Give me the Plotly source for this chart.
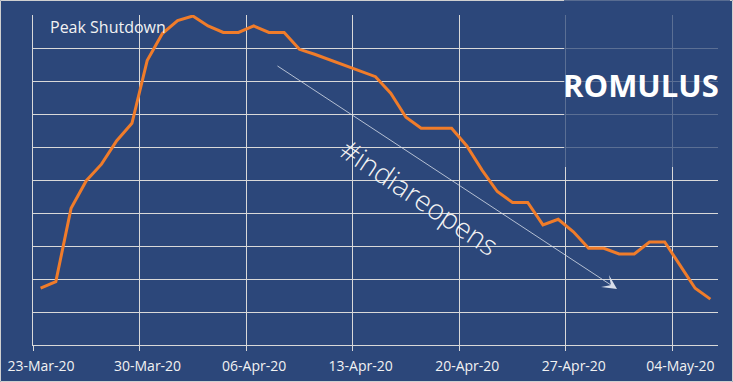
import plotly.graph_objects as go
import pandas as pd

# ---- data ----
start_date = "2020-03-23 12:00"
shutdown_index = [1.72, 1.92, 4.14, 4.98, 5.48, 6.19, 6.72, 8.62, 9.44, 9.83,
                  9.97, 9.67, 9.47, 9.47, 9.67, 9.47, 9.47, 8.96, 8.81, 8.64,
                  8.47, 8.28, 8.13, 7.63, 6.90, 6.57, 6.57, 6.57, 6.03, 5.30,
                  4.65, 4.32, 4.32, 3.64, 3.81, 3.43, 2.93, 2.93, 2.76, 2.76,
                  3.12, 3.12, 2.42, 1.72, 1.39]
dates = pd.date_range(start_date, periods=len(shutdown_index), freq="D")
tick_dates = ["2020-03-23", "2020-03-30", "2020-04-06", "2020-04-13",
              "2020-04-20", "2020-04-27", "2020-05-04"]
tick_labels = ["23-Mar-20", "30-Mar-20", "06-Apr-20", "13-Apr-20",
               "20-Apr-20", "27-Apr-20", "04-May-20"]

# ---- layout geometry ----
W, H = 733, 382
ML, MR, MT, MB = 33, 15, 15, 37
PW, PH = W - ML - MR, H - MT - MB
BG = "#2C477A"
GRID = "#D9D9D9"
X0 = pd.Timestamp("2020-03-23")
X1 = pd.Timestamp("2020-05-07")
DAYS = (X1 - X0).days


def px_x(px):
    return (px - ML) / PW


def px_y(py):
    return (H - MB - py) / PH


def px_date(px):
    return X0 + pd.Timedelta(days=(px - ML) / PW * DAYS)


def px_val(py):
    return (H - MB - py) / PH * 10


fig = go.Figure()
fig.add_trace(go.Scatter(x=dates, y=shutdown_index, mode="lines",
                         line=dict(color="#F07C2A", width=3),
                         hoverinfo="skip"))

fig.update_layout(
    width=W, height=H,
    margin=dict(l=ML, r=MR, t=MT, b=MB, autoexpand=False),
    paper_bgcolor=BG, plot_bgcolor=BG,
    showlegend=False,
    font=dict(family="Open Sans", color="#F2F2F2"),
    xaxis=dict(range=[X0, X1], tickvals=tick_dates, ticktext=tick_labels,
               showgrid=True, gridcolor=GRID, gridwidth=1,
               showline=True, linecolor=GRID, linewidth=1, mirror=False,
               ticks="outside", ticklen=5, tickcolor=GRID,
               tickfont=dict(size=14, color="#F2F2F2", family="Open Sans"),
               ticklabeloverflow="allow", ticklabelstandoff=3,
               ticklabelshift=8,
               zeroline=False, automargin=False),
    yaxis=dict(range=[0, 10], dtick=1, showticklabels=False,
               showgrid=True, gridcolor=GRID, gridwidth=1,
               showline=True, linecolor=GRID, linewidth=1,
               zeroline=False, ticks="", automargin=False),
)

shapes = [
    # outer border of the image
    dict(type="rect", xref="paper", yref="paper",
         x0=px_x(0.5), x1=px_x(W - 0.5), y0=px_y(H - 0.5), y1=px_y(0.5),
         line=dict(color="#D0D0D0", width=1), layer="above"),
    # logo panel overlay
    dict(type="rect", xref="paper", yref="paper",
         x0=px_x(564), x1=px_x(730), y0=px_y(167), y1=px_y(-1),
         fillcolor="rgba(44,71,122,0.73)", line=dict(width=0), layer="above"),
]
fig.update_layout(shapes=shapes)

annotations = [
    dict(text="Peak Shutdown", xref="paper", yref="paper",
         x=px_x(48), y=px_y(27), xanchor="left", yanchor="middle",
         showarrow=False, font=dict(size=16, color="#F2F2F2", family="Open Sans")),
    dict(text="<b>ROMULUS</b>", xref="paper", yref="paper",
         x=px_x(641), y=px_y(85), xanchor="center", yanchor="middle",
         showarrow=False, font=dict(size=31, color="#FFFFFF", family="Open Sans")),
    dict(text="#indiareopens", xref="paper", yref="paper",
         x=px_x(420), y=px_y(197), xanchor="center", yanchor="middle",
         textangle=34, showarrow=False,
         font=dict(size=28, color="#F2F2F2", family="Open Sans", weight=300)),
    dict(text="", x=px_date(617), y=px_val(289), xref="x", yref="y",
         ax=px_date(276), ay=px_val(65), axref="x", ayref="y",
         showarrow=True, arrowhead=3, arrowsize=3, arrowwidth=0.8,
         arrowcolor="#D8DEEA"),
]
fig.update_layout(annotations=annotations)

fig.write_html("out.html")
